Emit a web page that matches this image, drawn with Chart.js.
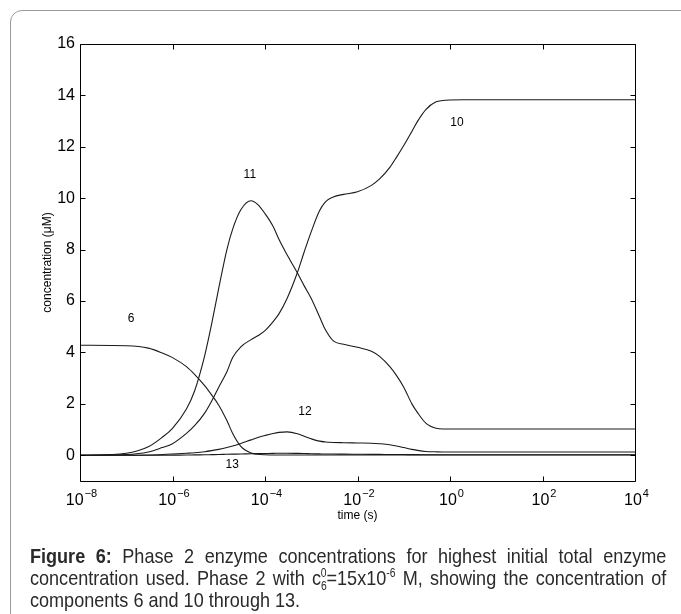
<!DOCTYPE html>
<html><head><meta charset="utf-8">
<script src="https://cdn.jsdelivr.net/npm/chart.js@4/dist/chart.umd.min.js"></script>
<style>
html,body{margin:0;padding:0;background:#fff;}
body{width:681px;height:614px;position:relative;overflow:hidden;}
#card{position:absolute;left:10px;top:10px;width:720px;height:660px;border:1px solid #9a9a9a;border-radius:12px;box-sizing:border-box;}
#c{position:absolute;left:0;top:0;}
#caption{position:absolute;left:30px;top:545px;width:740px;transform:scaleX(0.86);transform-origin:0 0;font-family:"Liberation Sans",Arial,sans-serif;font-size:21px;line-height:22px;color:#2a2a2a;}
#caption .j{text-align:justify;text-align-last:justify;white-space:nowrap;}
#caption sub,#caption sup{font-size:12px;line-height:0;}
</style></head>
<body>
<div id="card"></div>
<canvas id="c" width="681" height="614"></canvas>
<div id="caption">
<div class="j"><b>Figure 6:</b> Phase 2 enzyme concentrations for highest initial total enzyme</div>
<div class="j">concentration used. Phase 2 with c<sub>6</sub><sup style="margin-left:-7px">0</sup>=15x10<sup>-6</sup> M, showing the concentration of</div>
<div>components 6 and 10 through 13.</div>
</div>
<script>
// time points (s)
const times = [1e-8,1e-7,3e-7,6e-7,1e-6,2e-6,3e-6,5e-6,7e-6,1e-5,1.5e-5,2e-5,3e-5,5e-5,7e-5,1e-4,1.5e-4,2e-4,3e-4,5e-4,7e-4,1e-3,1.5e-3,2e-3,3e-3,5e-3,1e-2,2e-2,3e-2,5e-2,7e-2,0.1,0.15,0.2,0.3,0.5,0.7,1,2,10,1e4];
// concentrations (uM)
const c6  = [4.28,4.26,4.17,3.98,3.8,3.45,3.15,2.7,2.35,1.95,1.35,0.85,0.35,0.09,0.04,0.02,0.01,0.01,0.01,0.01,0.01,0.01,0.01,0.01,0.01,0.01,0.01,0.01,0.01,0.01,0.01,0.01,0.01,0.01,0.01,0.01,0.01,0.01,0.01,0.01,0.01];
const c10 = [0,0.03,0.13,0.3,0.45,0.85,1.15,1.65,2.1,2.65,3.25,3.8,4.22,4.5,4.65,4.85,5.2,5.5,6.1,7.1,7.9,8.7,9.5,9.85,10.05,10.15,10.25,10.5,10.75,11.2,11.6,12.05,12.6,13.0,13.45,13.75,13.8,13.82,13.83,13.83,13.83];
const c11 = [0,0.08,0.33,0.7,1.05,1.8,2.5,3.9,5.1,6.5,8.0,8.8,9.55,9.9,9.75,9.4,8.9,8.4,7.8,7.1,6.6,6.1,5.4,4.9,4.45,4.32,4.2,4.05,3.85,3.45,3.1,2.65,2.0,1.65,1.25,1.05,1.02,1.02,1.02,1.02,1.02];
const c12 = [0,0,0.01,0.03,0.05,0.08,0.1,0.14,0.18,0.23,0.3,0.36,0.46,0.6,0.69,0.77,0.85,0.89,0.91,0.84,0.74,0.64,0.55,0.52,0.5,0.49,0.48,0.47,0.45,0.41,0.36,0.3,0.23,0.19,0.15,0.135,0.13,0.13,0.13,0.13,0.13];
const c13 = [0,0,0,0,0.005,0.01,0.015,0.02,0.025,0.03,0.04,0.045,0.05,0.06,0.065,0.07,0.075,0.08,0.08,0.075,0.07,0.06,0.055,0.05,0.05,0.045,0.04,0.035,0.035,0.03,0.03,0.03,0.025,0.025,0.02,0.02,0.02,0.02,0.02,0.02,0.02];
const seriesNames = ['6','10','11','12','13'];
const seriesValues = [c6,c10,c11,c12,c13];
// in-plot labels
const labelTimes  = [1.27e-7, 1.42, 4.7e-5, 7.3e-4, 1.95e-5];
const labelValues = [5.3, 12.93, 10.9, 1.68, -0.35];
// ticks
const xTicks = [1e-8,1e-6,1e-4,1e-2,1,1e2,1e4];
const xTickExp = ['\u22128','\u22126','\u22124','\u22122','0','2','4'];
const yTicks = [0,2,4,6,8,10,12,14,16];

const FONT = '"Liberation Sans", Arial, sans-serif';

const framePlugin = {
  id:'frame',
  afterDraw(chart){
    const {ctx, chartArea:a, scales:{x,y}} = chart;
    ctx.save();
    ctx.strokeStyle = '#000';
    ctx.lineWidth = 1;
    const L=Math.round(a.left)+0.5, R=Math.round(a.right)+0.5, T=Math.round(a.top)+0.5, B=Math.round(a.bottom)+0.5;
    ctx.beginPath();
    ctx.rect(L,T,R-L,B-T);
    ctx.stroke();
    const tl = 5;
    ctx.beginPath();
    xTicks.forEach(v=>{
      const px = Math.round(x.getPixelForValue(v))+0.5;
      ctx.moveTo(px,B); ctx.lineTo(px,B-tl);
      ctx.moveTo(px,T); ctx.lineTo(px,T+tl);
    });
    yTicks.forEach(v=>{
      const py = Math.round(y.getPixelForValue(v))+0.5;
      ctx.moveTo(L,py); ctx.lineTo(L+tl,py);
      ctx.moveTo(R,py); ctx.lineTo(R-tl,py);
    });
    ctx.stroke();
    // x tick labels 10^n
    ctx.fillStyle = '#000';
    ctx.textBaseline = 'alphabetic';
    ctx.textAlign = 'left';
    xTicks.forEach((v,i)=>{
      const px = x.getPixelForValue(v);
      ctx.font = '16px ' + FONT;
      const w1 = ctx.measureText('10').width;
      ctx.font = '11px ' + FONT;
      const w2 = ctx.measureText(xTickExp[i]).width;
      const x0 = px - (w1+w2)/2 + 1;
      ctx.font = '16px ' + FONT;
      ctx.fillText('10', x0, 505);
      ctx.font = '11px ' + FONT;
      ctx.fillText(xTickExp[i], x0 + w1 + 1, 497);
    });
    // x axis title
    ctx.font = '12px ' + FONT;
    ctx.textAlign = 'center';
    ctx.textBaseline = 'middle';
    ctx.fillText('time (s)', (a.left+a.right)/2, 516);
    // series labels
    ctx.font = '12px ' + FONT;
    seriesNames.forEach((n,i)=>{
      ctx.fillText(n, x.getPixelForValue(labelTimes[i]), y.getPixelForValue(labelValues[i]));
    });
    ctx.restore();
  }
};

new Chart(document.getElementById('c'), {
  type:'scatter',
  data:{
    datasets: seriesNames.map((n,i)=>({
      label:n,
      data: times.map((t,j)=>({x:t, y:seriesValues[i][j]})),
      showLine:true,
      borderColor:'#1a1a1a',
      borderWidth:1.1,
      pointRadius:0,
      cubicInterpolationMode:'monotone',
      fill:false
    }))
  },
  options:{
    responsive:false,
    animation:false,
    events:[],
    layout:{padding:{left:0,top:44,right:46,bottom:133}},
    plugins:{legend:{display:false},tooltip:{enabled:false}},
    scales:{
      x:{
        type:'logarithmic', min:1e-8, max:1e4,
        afterBuildTicks:s=>{ s.ticks = xTicks.map(v=>({value:v})); },
        ticks:{display:false},
        grid:{display:false, drawTicks:false},
        border:{display:false},
        afterFit:s=>{ s.height = 0; }
      },
      y:{
        type:'linear', min:-1, max:16,
        afterBuildTicks:s=>{ s.ticks = yTicks.map(v=>({value:v})); },
        ticks:{color:'#000', font:{size:16, family:FONT}, padding:5},
        grid:{display:false, drawTicks:false},
        border:{display:false},
        title:{display:true, text:'concentration (\u03bcM)', color:'#000', font:{size:12, family:FONT}, padding:{top:40,bottom:0}},
        afterFit:s=>{ s.width = 80; }
      }
    }
  },
  plugins:[framePlugin]
});
</script>
</body></html>
